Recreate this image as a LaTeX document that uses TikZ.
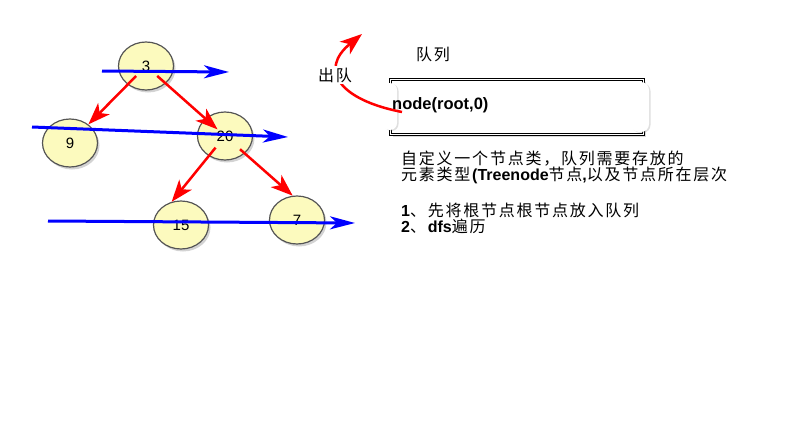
\documentclass[tikz,border=0pt]{standalone}
\usepackage{fontspec}
\setmainfont{Liberation Sans}
\newfontfamily\cjk[LetterSpace=11]{Noto Sans CJK SC}
\usetikzlibrary{arrows.meta,positioning,shapes.geometric,shadows}

\definecolor{treefill}{RGB}{252,250,190}
\definecolor{treeline}{RGB}{85,85,85}

\tikzset{
  tnode/.style={ellipse, draw=treeline, line width=1.2pt, fill=treefill,
    minimum width=55pt, minimum height=48pt, inner sep=0pt,
    font=\fontsize{15}{15}\selectfont,
    drop shadow={shadow xshift=2pt,shadow yshift=-2.5pt,opacity=0.35}},
  redarr/.style={draw=red, line width=2.5pt, -{Stealth[length=22pt,width=16pt,inset=6pt]}},
  bluearr/.style={draw=blue, line width=3pt, -{Stealth[length=25pt,width=13pt,inset=7pt]}},
  note/.style={inner sep=0pt, align=left, font=\fontsize{16}{16}\selectfont}
}

\begin{document}
\begin{tikzpicture}[x=1pt,y=-1pt]
  \useasboundingbox (0,0) rectangle (791,444);

  % binary tree
  \node[tnode] (n3) at (146,66) {3};
  \node[tnode] (n9) at (70,143) {9};
  \node[tnode] (n20) at (225,136) {20};
  \node[tnode] (n15) at (181,225) {15};
  \node[tnode] (n7) at (297,220) {7};

  \draw[redarr, shorten <=14pt] (n3.center) -- (n9);
  \draw[redarr, shorten <=15pt, shorten >=10pt] (n3.center) -- (n20.center);
  \draw[redarr, shorten <=15pt] (n20.center) -- (n15.112);
  \draw[redarr, shorten <=20pt] (n20.center) -- (n7.100);

  % level lines
  \coordinate (lv0s) at (102,71);
  \coordinate (lv0e) at (229,72);
  \coordinate (lv1s) at (32,127);
  \coordinate (lv1e) at (288,137);
  \coordinate (lv2s) at (48,221);
  \coordinate (lv2e) at (355,223);
  \draw[bluearr] (lv0s) -- (lv0e);
  \draw[bluearr] (lv1s) -- (lv1e);
  \draw[bluearr] (lv2s) -- (lv2e);

  % queue
  \draw[fill=white, double, double distance=1.5pt, line width=1.2pt,
    drop shadow={shadow xshift=2pt,shadow yshift=-2pt,opacity=0.3}]
    (390.5,79.5) rectangle (643.5,134.5);
  \path[fill=white, rounded corners=7pt,
    drop shadow={shadow xshift=1.5pt,shadow yshift=-1pt,opacity=0.25}]
    (383,83) rectangle (397,130); % left end
  \path[fill=white, rounded corners=8pt,
    drop shadow={shadow xshift=1.5pt,shadow yshift=-1pt,opacity=0.25}]
    (631,82) rectangle (649,132); % right end
  \node[font=\fontsize{16}{16}\selectfont] (qname) at (433,54) {\cjk 队列};
  \node[anchor=west, inner sep=1pt, font=\fontsize{16.5}{16.5}\selectfont\bfseries] (qitem) at (391,105) {node(root,0)};

  % dequeue
  \coordinate (qin) at (402,112);
  \coordinate (qout) at (362,34);
  \draw[redarr] (qin) .. controls (340,100) and (318,70) .. (qout);
  \node[fill=white, inner sep=1.5pt, font=\fontsize{16}{16}\selectfont] (deq) at (335,75) {\cjk 出队};

  % notes
  \node[note, anchor=base west] (desc) at (401,180)
    {{\cjk 自定义一个节点类，队列需要存放的}\\
     {\cjk 元素类型}\textbf{(Treenode}{\cjk 节点}\textbf{,}{\cjk 以及节点所在层次}};
  \node[note, anchor=base west] (steps) at (401,232)
    {\textbf{1}{\cjk 、先将根节点根节点放入队列}\\
     \textbf{2}{\cjk 、}\textbf{dfs}{\cjk 遍历}};
\end{tikzpicture}
\end{document}
